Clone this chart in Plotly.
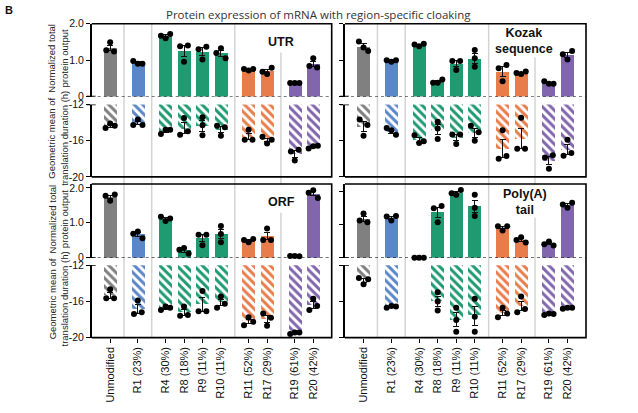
import numpy as np
import plotly.graph_objects as go

# ---------------- data ----------------
categories = ["Unmodified", "R1 (23%)", "R4 (30%)", "R8 (18%)", "R9 (11%)", "R10 (11%)",
              "R11 (52%)", "R17 (29%)", "R19 (61%)", "R20 (42%)"]
group_of = [0, 1, 2, 2, 2, 2, 3, 3, 4, 4]

utr_protein = [[1.27, 1.49, 1.24], [0.98, 0.90, 0.90], [1.67, 1.60, 1.72], [1.38, 0.96, 1.40],
               [1.30, 1.02, 1.37], [1.20, 1.33, 1.05], [0.76, 0.72, 0.76], [0.68, 0.62, 0.79],
               [0.37, 0.37, 0.37], [0.84, 1.05, 0.80]]
utr_duration = [[-14.6, -14.1, -14.35], [-14.25, -13.65, -14.25], [-15.25, -14.8, -14.8],
                 [-15.35, -13.5, -14.95], [-13.4, -14.3, -15.4], [-14.35, -15.45, -14.5],
                 [-15.9, -14.8, -15.9], [-15.55, -16.3, -15.9], [-17.2, -18.2, -17.0],
                 [-16.85, -16.6, -16.55]]
kozak_protein = [[1.51, 1.35, 1.25], [1.0, 0.96, 1.0], [1.43, 1.38, 1.45], [0.38, 0.38, 0.47],
                 [0.98, 0.73, 0.98], [1.28, 1.05, 0.82], [0.78, 0.87, 0.42], [0.65, 0.62, 0.69],
                 [0.42, 0.35, 0.35], [1.16, 1.02, 1.25]]
kozak_duration = [[-13.65, -14.25, -15.45], [-14.6, -14.85, -15.35], [-15.4, -16.25, -16.05],
                  [-13.9, -14.65, -15.8], [-15.3, -16.35, -15.3], [-14.35, -15.05, -16.0],
                  [-14.85, -18.0, -17.7], [-13.45, -16.9, -16.9], [-17.85, -17.6, -19.1],
                  [-15.9, -17.65, -17.35]]
orf_protein = [[1.77, 1.63, 1.81], [0.69, 0.75, 0.56], [1.17, 1.05, 1.12], [0.23, 0.28, 0.12],
               [0.66, 0.66, 0.36], [0.91, 0.68, 0.44], [0.51, 0.44, 0.54], [0.84, 0.51, 0.51],
               [0.05, 0.05, 0.04], [1.86, 1.93, 1.71]]
orf_duration = [[-15.65, -14.65, -15.65], [-17.4, -15.9, -17.2], [-16.95, -16.55, -16.7],
                [-17.6, -16.55, -17.5], [-17.1, -14.85, -17.1], [-16.7, -15.45, -16.25],
                [-18.65, -17.75, -18.25], [-17.35, -18.7, -17.8], [-19.6, -19.45, -19.45],
                [-16.95, -15.7, -16.5]]
polya_protein = [[1.34, 1.13, 1.08], [1.25, 1.13, 1.27], [0.0, 0.0, 0.0], [1.50, 1.08, 1.57],
                 [1.96, 1.91, 2.06], [1.91, 1.52, 1.27], [0.96, 0.83, 0.96], [0.54, 0.62, 0.46],
                 [0.41, 0.49, 0.37], [1.62, 1.52, 1.67]]
polya_duration = [[-13.4, -14.1, -13.55], [-16.7, -16.5, -16.55], [None, None, None],
                  [-15.0, -16.0, -17.0], [-16.7, -18.05, -19.35], [-15.7, -17.7, -19.35],
                  [-17.75, -16.7, -17.35], [-17.2, -15.45, -16.85], [-17.5, -17.35, -17.4],
                  [-16.8, -16.7, -16.7]]

panel_labels = ["UTR", "Kozak<br>sequence", "ORF", "Poly(A)<br>tail"]
protein_tick_vals = [0, 1, 2]
protein_tick_text = ["0", "1.0", "2.0"]
duration_tick_vals = [-20, -16, -12]
duration_tick_text = ["-20", "-16", "-12"]

# ---------------- style ----------------
group_colors = ["#808080", "#5b86c8", "#1f9a71", "#e97c4b", "#8165ad"]
group_light = ["#e6e6e6", "#e3eaf7", "#daf0e7", "#fce6da", "#ebe4f3"]
FONT = "Liberation Sans, Arial, sans-serif"
W, H = 638, 413

cols = [(91.7, 331.7), (345.0, 586.0)]
rows = [((18.3, 93.3), (101.5, 176.0)), ((183.3, 259.3), (267.0, 341.5))]
prot_ranges = [2.0, 2.0, 2.11, 2.24]
label_pos = [(9.25, 37), (8.68, 36), (9.3, 202), (8.72, 201.5)]  # (x data, y px centre)
hidden_sep = [[(0, 48), (184, 213)], [(0, 53), (184, 218)]]

def fx(p):
    return p / W

def fy(p):
    return 1 - p / H

pos = np.array([i + 0.5 * g for i, g in enumerate(group_of)])
bar_colors = [group_colors[g] for g in group_of]
bar_light = [group_light[g] for g in group_of]
seps = [(pos[i] + pos[i + 1]) / 2 for i in range(len(pos) - 1) if group_of[i] != group_of[i + 1]]


def stats(vals):
    arr = np.array([v for v in vals if v is not None], dtype=float)
    if len(arr) == 0:
        return None, None
    return float(arr.mean()), float(arr.std(ddof=1) / np.sqrt(len(arr)))


def swarm(vals, span):
    idx = [i for i, v in enumerate(vals) if v is not None]
    order = sorted(idx, key=lambda i: vals[i])
    groups, cur = [], [order[0]] if order else []
    for a, b in zip(order, order[1:]):
        if abs(vals[b] - vals[a]) < 0.09 * span:
            cur.append(b)
        else:
            groups.append(cur)
            cur = [b]
    if cur:
        groups.append(cur)
    offs = {}
    patt = {1: [0.0], 2: [-0.21, 0.21], 3: [-0.25, 0.0, 0.25]}
    for g in groups:
        for i, o in zip(sorted(g), patt[len(g)]):
            offs[i] = o
    return offs


def note(text, x, y, size, xref="paper", yref="paper", angle=0, family=FONT, color="#111"):
    return dict(text=text, xref=xref, yref=yref, x=x, y=y, showarrow=False, textangle=angle,
                xanchor="center", yanchor="middle",
                font=dict(family=family, size=size, color=color))


fig = go.Figure()
shapes, annotations = [], []
datasets = [(utr_protein, utr_duration), (kozak_protein, kozak_duration),
            (orf_protein, orf_duration), (polya_protein, polya_duration)]

for k, (prot, dur) in enumerate(datasets):
    c, r = k % 2, k // 2
    for j, (vals_all, lower) in enumerate([(prot, False), (dur, True)]):
        n = 2 * k + j + 1
        xa = "x" if n == 1 else f"x{n}"
        ya = "y" if n == 1 else f"y{n}"
        yr = [-20, -12] if lower else [0, prot_ranges[k]]
        span = yr[1] - yr[0]
        means, sems = [], []
        for vals in vals_all:
            m, s = stats(vals)
            means.append(m)
            sems.append(s)
        if lower:
            marker = dict(color=bar_colors, line=dict(width=0),
                          pattern=dict(shape="\\", bgcolor=bar_light,
                                       size=6, solidity=0.5, fillmode="replace"))
        else:
            marker = dict(color=bar_colors, line=dict(width=0))
        fig.add_trace(go.Bar(x=pos, y=means, width=0.7, marker=marker,
                             error_y=dict(type="data", array=sems, color="#111", thickness=1, width=3),
                             xaxis=xa, yaxis=ya, showlegend=False, hoverinfo="skip"))
        px_, py_ = [], []
        for p, vals in zip(pos, vals_all):
            offs = swarm(vals, span)
            for i, o in offs.items():
                px_.append(p + o)
                py_.append(vals[i])
        fig.add_trace(go.Scatter(x=px_, y=py_, mode="markers", cliponaxis=False,
                                 marker=dict(size=6, color="black"),
                                 xaxis=xa, yaxis=ya, showlegend=False, hoverinfo="skip"))
        (ytop_px, ybot_px) = rows[r][j]
        bottom_labels = (r == 1 and lower)
        xkey = "xaxis" if n == 1 else f"xaxis{n}"
        ykey = "yaxis" if n == 1 else f"yaxis{n}"
        fig.layout[xkey] = dict(domain=[fx(cols[c][0]), fx(cols[c][1])], range=[-1, 12],
                                anchor=ya, showgrid=False, zeroline=False, showline=False,
                                fixedrange=True,
                                tickvals=pos if bottom_labels else [],
                                ticktext=categories if bottom_labels else [],
                                ticks="outside" if bottom_labels else "",
                                ticklen=4, tickwidth=1.3, tickcolor="black",
                                tickangle=-90, showticklabels=bottom_labels,
                                tickfont=dict(family=FONT, size=11, color="#111"))
        fig.layout[ykey] = dict(domain=[fy(ybot_px), fy(ytop_px)], range=yr, anchor=xa,
                                showgrid=False, zeroline=False, showline=True, linewidth=1.5,
                                linecolor="black", ticks="outside", ticklen=4, tickwidth=1.3,
                                tickcolor="black",
                                tickvals=duration_tick_vals if lower else protein_tick_vals,
                                ticktext=duration_tick_text if lower else protein_tick_text,
                                showticklabels=(c == 0), fixedrange=True,
                                tickfont=dict(family=FONT, size=10.5, color="#111"))
        # axis break marks
        yb = yr[1] if lower else 0
        shapes.append(dict(type="line", xref=f"{xa} domain", yref=ya,
                           x0=-5 / 240, x1=4 / 240, y0=yb, y1=yb,
                           line=dict(color="black", width=1.5)))
        if not lower:
            shapes.append(dict(type="line", xref=f"{xa} domain", yref=ya, x0=0, x1=1, y0=0, y1=0,
                               line=dict(color="black", width=1.2, dash="dot")))
            if c == 0:
                annotations.append(note("Normalized total<br>protein output", fx(58),
                                        fy((ytop_px + ybot_px) / 2 - 1.5), 9.5, angle=-90,
                                        color="#222"))
        else:
            if c == 0:
                annotations.append(note("Geometric mean of<br>translation duration (h)", fx(58),
                                        fy((ytop_px + ybot_px) / 2 - 2), 9.5, angle=-90,
                                        color="#222"))
    # frame (top, right, bottom)
    x0, x1 = fx(cols[c][0]), fx(cols[c][1])
    yt, yb2 = fy(rows[r][0][0]), fy(rows[r][1][1])
    shapes.append(dict(type="path", xref="paper", yref="paper",
                       path=f"M {x0},{yt} L {x1},{yt} L {x1},{yb2} L {x0},{yb2}",
                       line=dict(color="black", width=1.6)))
    # panel label
    lx, ly = label_pos[k]
    xa_up = "x" if k == 0 else f"x{2 * k + 1}"
    annotations.append(note(f"<b>{panel_labels[k].replace('<br>', '</b><br><b>')}</b>", lx, fy(ly),
                            12.5, xref=xa_up))

# group separators spanning both rows
for c in range(2):
    xa = "x" if c == 0 else "x3"
    top, bot = rows[0][0][0], rows[1][1][1]
    for si, s in enumerate(seps):
        segs = [(top, bot)]
        if si == len(seps) - 1:
            (h1a, h1b), (h2a, h2b) = hidden_sep[c]
            segs = [(h1b, h2a), (h2b, bot)]
        for a, b in segs:
            shapes.append(dict(type="line", xref=xa, yref="paper", x0=s, x1=s,
                               y0=fy(a), y1=fy(b), layer="below",
                               line=dict(color="#d4d4d4", width=1.5)))

annotations.append(note("Protein expression of mRNA with region-specific cloaking", fx(318), fy(9),
                        11.5, family="Open Sans, sans-serif", color="#333"))
annotations.append(note("<b>B</b>", fx(9), fy(4), 11))

fig.update_layout(width=W, height=H, margin=dict(l=0, r=0, t=0, b=0),
                  paper_bgcolor="white", plot_bgcolor="rgba(0,0,0,0)",
                  bargap=0, shapes=shapes, annotations=annotations, showlegend=False)

fig.write_html("out.html")
